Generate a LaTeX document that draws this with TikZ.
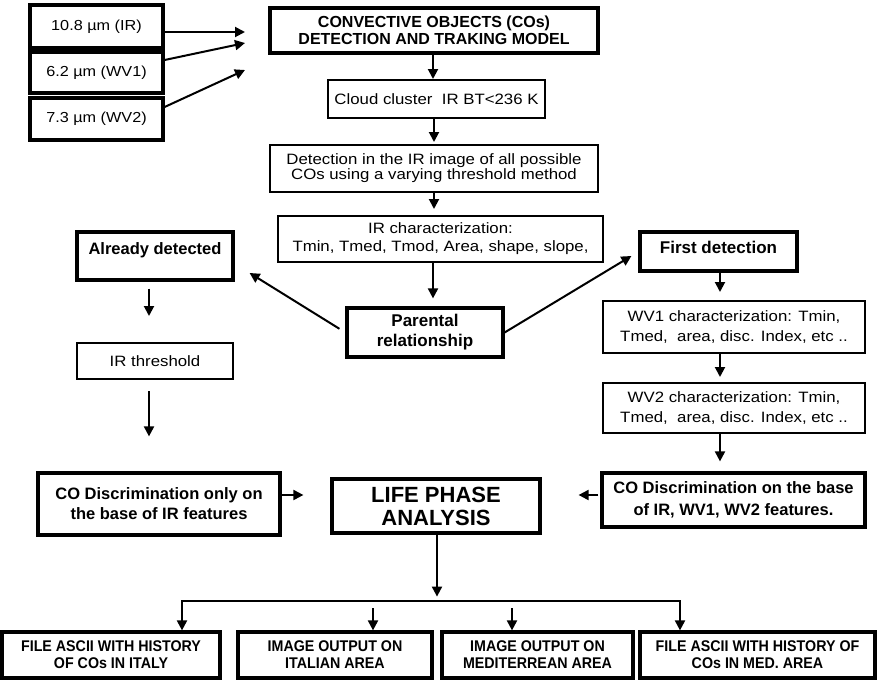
\documentclass[tikz,border=0pt]{standalone}
\usepackage{fontspec}
\setmainfont{Liberation Sans}
\newfontfamily\rfam{Liberation Sans}[FakeStretch=1.12]
\newfontfamily\bfam{Liberation Sans}
\newfontfamily\cfam{Liberation Sans}[FakeStretch=0.92]
\usetikzlibrary{arrows.meta}
\tikzset{
  thickbox/.style={draw, line width=3.2pt, inner sep=0pt, align=center},
  thinbox/.style={draw, line width=2pt, inner sep=0pt, align=center},
  arr/.style={line width=2pt, -{Triangle[width=10pt,length=10pt]}},
  arrboth/.style={line width=2pt, {Triangle[width=10pt,length=10pt]}-{Triangle[width=10pt,length=10pt]}},
  infont/.style={font={\rfam\fontsize{14.5}{16}\selectfont}},
  regfont/.style={font={\rfam\fontsize{15}{#1}\selectfont}},
  boldfont/.style={font={\bfam\bfseries\fontsize{16.5}{#1}\selectfont}},
  hdfont/.style={font={\bfam\bfseries\fontsize{16}{17}\selectfont}},
  lifefont/.style={font={\bfam\bfseries\fontsize{22}{23}\selectfont}},
  botfont/.style={font={\cfam\bfseries\fontsize{15.5}{17}\selectfont}},
}
\begin{document}
\begin{tikzpicture}[x=1pt,y=-1pt]
\useasboundingbox (0,0) rectangle (879,680);

% input boxes
\node[thickbox, infont, minimum width=133pt, minimum height=43pt] (in1) at (96.5,26.5) {10.8 µm (IR)};
\node[thickbox, infont, minimum width=133pt, minimum height=41pt] (in2) at (96.5,72.5) {6.2 µm (WV1)};
\node[thickbox, infont, minimum width=133pt, minimum height=42pt] (in3) at (96.5,119) {7.3 µm (WV2)};

% central column
\node[thickbox, hdfont, minimum width=328pt, minimum height=45pt] (header) at (434,30.5) {CONVECTIVE OBJECTS (COs)\\DETECTION AND TRAKING MODEL};
\node[thinbox, regfont=15, minimum width=217pt, minimum height=38pt] (cloud) at (436.5,99) {Cloud cluster~ IR BT<236 K};
\node[thinbox, regfont=15, minimum width=328pt, minimum height=47pt] (detect) at (434,168.5) {Detection in the IR image of all possible\\COs using a varying threshold method};
\node[thinbox, regfont=18, minimum width=325pt, minimum height=46pt] (irchar) at (440.5,239) {IR characterization:\\Tmin, Tmed, Tmod, Area, shape, slope,};
\node[thickbox, font={\bfam\bfseries\fontsize{17}{20}\selectfont}, minimum width=156pt, minimum height=49pt] (parental) at (425,332.5) {Parental\\relationship};
\node[thickbox, lifefont, minimum width=208pt, minimum height=54pt] (life) at (436,506) {LIFE PHASE\\ANALYSIS};

% left column
\node[thickbox, boldfont=18, minimum width=156pt, text height=22pt, text depth=26pt] (already) at (155,256) {Already detected};
\node[thinbox, regfont=15, minimum width=156pt, minimum height=36pt] (irthr) at (155,361) {IR threshold};
\node[thickbox, boldfont=20, minimum width=242pt, minimum height=62pt] (coleft) at (159,504) {CO Discrimination only on\\the base of IR features};

% right column
\node[thickbox, font={\bfam\bfseries\fontsize{17}{20}\selectfont}, minimum width=157pt, text height=21.5pt, text depth=17.5pt] (first) at (718.5,251.5) {First detection};
\node[thinbox, regfont=20, minimum width=262pt, minimum height=52pt] (wv1) at (734,327) {WV1 characterization: Tmin,\\Tmed,~ area, disc. Index, etc ..};
\node[thinbox, regfont=20, minimum width=262pt, minimum height=50pt] (wv2) at (734,408) {WV2 characterization: Tmin,\\Tmed,~ area, disc. Index, etc ..};
\node[thickbox, boldfont=22, minimum width=263pt, minimum height=54pt] (coright) at (733.5,500) {CO Discrimination on the base\\of IR, WV1, WV2 features.};

% bottom row
\node[thickbox, botfont, minimum width=218pt, minimum height=46pt] (b1) at (111,655) {FILE ASCII WITH HISTORY\\OF COs IN ITALY};
\node[thickbox, botfont, minimum width=194pt, minimum height=46pt] (b2) at (335,655) {IMAGE OUTPUT ON\\ITALIAN AREA};
\node[thickbox, botfont, minimum width=191pt, minimum height=46pt] (b3) at (537.5,655) {IMAGE OUTPUT ON\\MEDITERREAN AREA};
\node[thickbox, botfont, minimum width=235pt, minimum height=46pt] (b4) at (757.5,655) {FILE ASCII WITH HISTORY OF\\COs IN MED. AREA};

% input arrows
\coordinate (t1) at (245,32);
\coordinate (t2) at (245,43);
\coordinate (t3) at (245,70);
\draw[arr] ([yshift=-5.5pt]in1.east) -- (t1);
\draw[arr] ([yshift=12.5pt]in2.east) -- (t2);
\draw[arr] ([yshift=12pt]in3.east) -- (t3);

% central arrows
\draw[arr] ([xshift=-1pt]header.south) -- ([xshift=-1pt]header.south |- cloud.north);
\draw[arr, shorten >=2pt] (detect.north |- cloud.south) -- (detect.north);
\draw[arr, shorten >=6pt] (detect.south) -- (detect.south |- irchar.north);
\draw[arr, shorten >=8pt] ([xshift=-7.5pt]irchar.south) -- ([xshift=-7.5pt]irchar.south |- parental.north);
\draw[arr, shorten <=7pt] (parental.west) -- ([xshift=15pt,yshift=-17pt]already.east);
\draw[arr] (parental.east) -- ([xshift=-7pt,yshift=-4.5pt]first.west);

% left arrows
\draw[arr, shorten <=7pt, shorten >=26pt] ([xshift=-6pt]already.south) -- ([xshift=-6pt]irthr.north);
\draw[arr, shorten <=11pt, shorten >=35pt] ([xshift=-6pt]irthr.south) -- ([xshift=-6pt]irthr.south |- coleft.north);
\draw[arr, shorten >=27pt] ([yshift=9pt]coleft.east) -- ([yshift=9pt]coleft.east -| life.west);

% right arrows
\draw[arr, shorten >=8pt] ([xshift=1.5pt]first.south) -- ([xshift=1.5pt]first.south |- wv1.north);
\draw[arr, shorten >=5pt] ([xshift=-14pt]wv1.south) -- ([xshift=-14pt]wv1.south |- wv2.north);
\draw[arr, shorten >=10pt] ([xshift=-14pt]wv2.south) -- ([xshift=-14pt]wv2.south |- coright.north);
\draw[arr, shorten <=2pt, shorten >=37pt] ([yshift=5pt]coright.west) -- ([yshift=5pt]coright.west -| life.east);

% bottom distribution
\draw[arr] ([xshift=1pt]life.south) -- ++(0,62);
\coordinate (hl) at (182,601);
\coordinate (hr) at (680,601);
\draw[arrboth] (hl |- b1.north) -- (hl) -- (hr) -- (hr |- b4.north);
\draw[arr] ([xshift=38pt,yshift=22pt]b2.north) -- ([xshift=38pt]b2.north);
\draw[arr] ([xshift=-25.5pt,yshift=22pt]b3.north) -- ([xshift=-25.5pt]b3.north);
\end{tikzpicture}
\end{document}
